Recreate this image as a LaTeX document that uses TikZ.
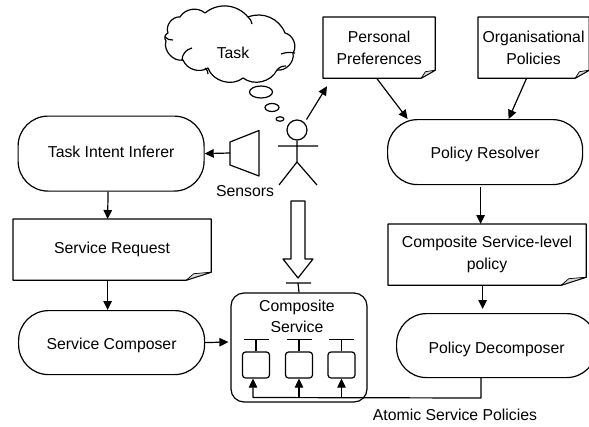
\documentclass[tikz,border=0pt]{standalone}
\usepackage{fontspec}
\setmainfont{Liberation Sans}
\usetikzlibrary{arrows.meta,calc}
\tikzset{
	pill/.style={draw,rounded corners=30pt,inner sep=0pt,anchor=north west},
	notebox/.style={inner sep=0pt,align=center,anchor=north west},
	smallbox/.style={draw,rounded corners=3pt,inner sep=0pt,minimum width=27pt,minimum height=26pt},
	label/.style={inner sep=0pt,align=center}
}
%% outline of a note with its folded corner
\newcommand{\notefold}[2]{
	\draw (#1.north west)--(#1.north east)--([yshift=8pt]#1.south east)--([xshift=-#2]#1.south east)--(#1.south west)--cycle;
	\filldraw[fill=gray!30,line width=.7pt] ([yshift=8pt]#1.south east)--([xshift=-.7*#2,yshift=6.5pt]#1.south east)--([xshift=-#2]#1.south east)--cycle;
}
\newcommand{\lowtext}[2]{\raisebox{-#1}[8pt][3pt]{#2}}
\begin{document}
\begin{tikzpicture}[x=1pt,y=-1pt,line width=1.2pt,line join=round,>={Triangle[length=9pt,width=8.5pt]},font=\fontsize{15.8}{21.5}\selectfont]
	\useasboundingbox (0,0) rectangle (589,426);
	%%left column
	\node[pill,minimum width=186pt,minimum height=75pt] (inferer) at (17.5,115.5) {\lowtext{1pt}{Task Intent Inferer}};
	\node[notebox,minimum width=197pt,minimum height=60pt] (request) at (13,219) {Service Request};
	\node[pill,minimum width=186pt,minimum height=64pt] (composer) at (18,310) {\lowtext{4pt}{Service Composer}};
	\notefold{request}{25pt}
	\draw[->] ([xshift=-3pt]inferer.south)--([xshift=-4.5pt]request.north);
	\draw[->] ([xshift=-4.5pt]request.south)--([xshift=-4pt]composer.north);
	%%right column
	\node[notebox,minimum width=111pt,minimum height=60pt] (preferences) at (323,17) {Personal\\Preferences};
	\node[notebox,minimum width=110pt,minimum height=60pt] (organisation) at (478,17) {Organisational\\Policies};
	\node[pill,minimum width=195pt,minimum height=65pt] (resolver) at (387,119) {\lowtext{3.5pt}{Policy Resolver}};
	\node[notebox,minimum width=197pt,minimum height=60pt] (compolicy) at (388,224) {Composite Service-level\\policy};
	\node[pill,minimum width=200pt,minimum height=64pt] (decomposer) at (396,313) {\lowtext{5pt}{Policy Decomposer}};
	\notefold{preferences}{14pt}
	\notefold{organisation}{14pt}
	\notefold{compolicy}{25pt}
	\draw[->] ([xshift=-2.5pt]preferences.south)--([xshift=-77.5pt]resolver.north);
	\draw[->] ([xshift=-7pt]organisation.south)--([xshift=23.5pt]resolver.north);
	\draw[->] ([xshift=-4.5pt,yshift=-2pt]resolver.south)--([xshift=-6.5pt]compolicy.north);
	\draw[->] ([xshift=-4.5pt]compolicy.south)--([xshift=-14pt,yshift=4pt]decomposer.north);
	%%task cloud
	\draw (166,41) to[bend left=60] (168,33) to[bend left=60] (180,17) to[bend left=50] (205,13)
		to[bend left=45] (248,17) to[bend left=45] (285,33) to[bend left=55] (293,53)
		to[bend left=55] (277,70) to[bend left=50] (243,78) to[bend left=55] (208,68)
		to[bend left=50] (183,60) to[bend left=60] (166,41);
	\draw (173,40) to[bend left=25] (165,37);
	\draw (182,61) to[bend left=40] (192,48);
	\draw (205,68) to[bend left=25] (208,74);
	\draw (277,70) to[bend left=25] (286,66);
	\draw (281,54) to[bend left=15] (295,53);
	\draw (248,17) to[bend left=20] (252,24);
	\node[label] (task) at (233,53) {Task};
	\draw (261,92) ellipse (11.5 and 6);
	\draw (272,107.5) ellipse (7 and 4);
	\draw (280,119) ellipse (4 and 2.2);
	%%user and sensors
	\node[draw,circle,minimum size=20pt,inner sep=0pt] (user) at (297,130) {};
	\draw (user.south)--(297,162) (278,146)--(318,146) (279,185)--(297,162)--(317,185);
	\draw[->] (user.north east)++(2,-3)--([xshift=4pt,yshift=-8pt]preferences.south west);
	\draw (230,142)--(259,130.5)--(259,176)--(230,165)--cycle;
	\coordinate (sensorout) at (230,153);
	\draw[->] (sensorout)--(inferer.east);
	\node[label] (sensors) at (245,191) {Sensors};
	%%composite service
	\node[draw,rounded corners=13pt,minimum width=136pt,minimum height=109pt,inner sep=0pt] (composite) at (299,347.5) {};
	\node[label] (comptext) at (297,316.5) {Composite\\Service};
	\draw (286,283)--(311,283) (298,283)--(composite.north);
	\draw[fill=white] (291,201)--(305,201)--(305,259)--(313,259)--(298,278)--(283,259)--(291,259)--cycle;
	\draw[->] (composer.east)--([xshift=-2pt,yshift=5.5pt]composite.west);
	\foreach \name/\px in {one/256,two/299,three/341.5}{
		\node[smallbox] (\name) at (\px,365) {};
		\draw (\name.north)--++(0,-12) ++(-12.5,0)--++(25,0);
	}
	%%atomic policies
	\coordinate (corner) at (481,398);
	\coordinate (start) at (253,397.5);
	\draw[->] (decomposer.south -| corner)--(corner)--(start)--(start |- one.south);
	\draw[->] (two.south |- start)--(two.south);
	\draw[->] (three.south |- start)--(three.south);
	\node[label] (atomic) at (455,415) {Atomic Service Policies};
\end{tikzpicture}
\end{document}
